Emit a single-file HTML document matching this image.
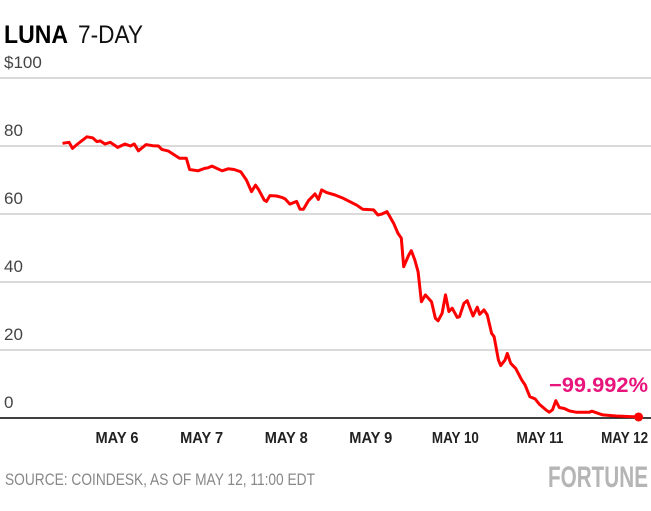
<!DOCTYPE html>
<html><head><meta charset="utf-8"><style>
html,body{margin:0;padding:0;background:#fff;}
svg{display:block;font-family:"Liberation Sans Narrow","Liberation Sans",sans-serif;}
</style></head><body>
<svg id="chart" width="651" height="511" viewBox="0 0 651 511">
<text x="4" y="43" font-size="25" font-weight="bold" fill="#000" textLength="64" lengthAdjust="spacingAndGlyphs">LUNA</text>
<text x="78" y="43" font-size="25" fill="#111" textLength="65" lengthAdjust="spacingAndGlyphs">7-DAY</text>
<g id="grid"></g>
<g id="ylabels"></g>
<g id="xlabels"></g>
<path id="line" fill="none" stroke="#ff0000" stroke-width="3" stroke-linejoin="round"/>
<circle id="enddot" r="4.5" fill="#ff0000"/>
<text x="648" y="392" text-anchor="end" font-size="21" font-weight="bold" fill="#e8157d" textLength="99" lengthAdjust="spacingAndGlyphs">−99.992%</text>
<text x="5" y="485" font-size="17" fill="#888" textLength="310" lengthAdjust="spacingAndGlyphs">SOURCE: COINDESK, AS OF MAY 12, 11:00 EDT</text>
<text x="648" y="487" text-anchor="end" font-size="30" font-weight="bold" fill="#b5b5b5" textLength="100" lengthAdjust="spacingAndGlyphs">FORTUNE</text>
</svg>
<script>
const yTicks=[0,20,40,60,80,100];
const yTickLabels=["0","20","40","60","80","$100"];
const xCats=["MAY 6","MAY 7","MAY 8","MAY 9","MAY 10","MAY 11","MAY 12"];
const days=[-0.644,-0.566,-0.526,-0.466,-0.356,-0.288,-0.237,-0.198,-0.142,-0.079,0.008,0.095,0.158,0.205,0.253,0.344,0.423,0.49,0.53,0.609,0.739,0.819,0.858,0.957,1.036,1.076,1.123,1.242,1.313,1.384,1.463,1.53,1.59,1.637,1.676,1.74,1.767,1.807,1.886,1.945,1.985,2.044,2.123,2.163,2.203,2.262,2.34,2.381,2.42,2.479,2.578,2.677,2.835,2.903,3.033,3.084,3.132,3.191,3.27,3.321,3.361,3.389,3.448,3.479,3.52,3.559,3.598,3.645,3.717,3.764,3.796,3.843,3.883,3.923,3.962,4.021,4.049,4.101,4.14,4.208,4.259,4.286,4.338,4.377,4.428,4.457,4.508,4.535,4.587,4.614,4.654,4.713,4.784,4.824,4.879,4.943,4.99,5.069,5.109,5.148,5.187,5.228,5.287,5.346,5.425,5.584,5.614,5.741,5.899,6.165];
const prices=[80.8,81.1,79.3,80.6,82.7,82.4,81.3,81.5,80.6,81.1,79.6,80.6,80,80.6,78.6,80.4,80.1,80,79,78.5,76.4,76.4,73.1,72.7,73.4,73.6,74.1,72.7,73.3,73.1,72.4,70,66.6,68.5,67.1,64.1,63.7,65.4,65.3,64.9,64.5,62.9,63.7,61.4,61.4,63.9,65.9,64.3,67.1,66.3,65.6,64.6,62.6,61.4,61.2,59.7,60,60.7,57.3,54.3,52.9,44.5,47.9,49.2,46.5,43,34.2,36.2,34.2,29.3,28.6,30.8,36.2,31.3,32.3,29.6,29.8,33.7,34.5,30,32.6,30.5,31.8,30.3,24.9,23.9,17.1,15.4,17.1,19,16.1,14.6,11.2,9.7,6.3,5.6,4.1,2.4,1.7,2.4,5.1,3.1,2.8,2.1,1.7,1.7,2,0.9,0.6,0.3];
const NS="http://www.w3.org/2000/svg";
function yS(v){return 418-v*3.4;}
function xS(d){return 117+d*84.6;}
const grid=document.getElementById('grid'),yl=document.getElementById('ylabels'),xl=document.getElementById('xlabels');
yTicks.forEach((t,i)=>{
 const l=document.createElementNS(NS,'line');
 
 
 l.setAttribute('x1',0);l.setAttribute('x2',651);l.setAttribute('y1',yS(t));l.setAttribute('y2',yS(t));
 l.setAttribute('stroke',t===0?'#000':'#b4b4b4');l.setAttribute('stroke-width',t===0?1.5:1);
 grid.appendChild(l);
 const tx=document.createElementNS(NS,'text');
 
 
 tx.setAttribute('x',4);tx.setAttribute('y',yS(t)-10);tx.setAttribute('font-size','17');tx.setAttribute('fill','#444');
 tx.textContent=yTickLabels[i];yl.appendChild(tx);
});
xCats.forEach((c,i)=>{
 const tx=document.createElementNS(NS,'text');
 
 
 tx.setAttribute('x',xS(i));tx.setAttribute('y',443);tx.setAttribute('text-anchor','middle');
 tx.setAttribute('font-size','16');tx.setAttribute('font-weight','bold');tx.setAttribute('fill','#222');
 tx.setAttribute('textLength',c.length>5?47:43);tx.setAttribute('lengthAdjust','spacingAndGlyphs');
 tx.textContent=c;xl.appendChild(tx);
});
let d='';
days.forEach((v,i)=>{d+=(i?'L':'M')+xS(v).toFixed(1)+','+yS(prices[i]).toFixed(1);});
document.getElementById('line').setAttribute('d',d);
const n=days.length-1,dot=document.getElementById('enddot');
dot.setAttribute('cx',xS(days[n]));dot.setAttribute('cy',yS(prices[n]));
</script>
</body></html>
